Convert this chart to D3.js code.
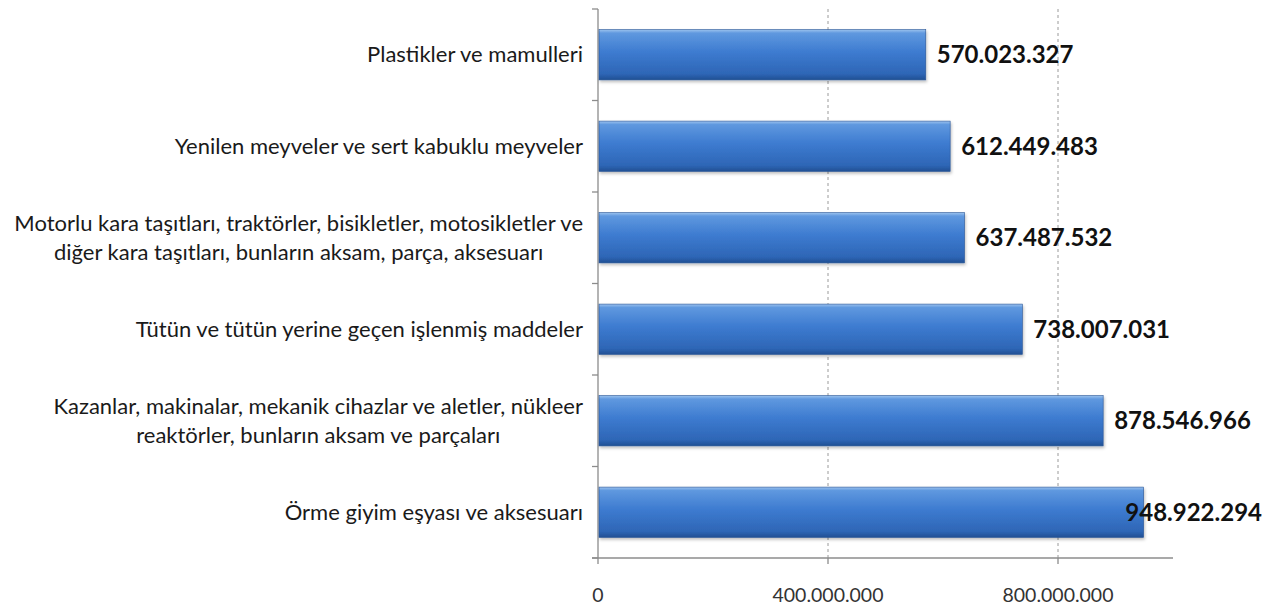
<!DOCTYPE html>
<html><head><meta charset="utf-8">
<script src="https://cdn.jsdelivr.net/npm/d3@7"></script>
<style>body{margin:0;background:#fff}svg{display:block}</style>
</head><body>
<svg id="c" width="1264" height="608"></svg>
<script>
const categories = [
  ["Plastikler ve mamulleri"],
  ["Yenilen meyveler ve sert kabuklu meyveler"],
  ["Motorlu kara taşıtları, traktörler, bisikletler, motosikletler ve", "diğer kara taşıtları, bunların aksam, parça, aksesuarı"],
  ["Tütün ve tütün yerine geçen işlenmiş maddeler"],
  ["Kazanlar, makinalar, mekanik cihazlar ve aletler, nükleer", "reaktörler, bunların aksam ve parçaları"],
  ["Örme giyim eşyası ve aksesuarı"]
];
const values = [570023327, 612449483, 637487532, 738007031, 878546966, 948922294];
const tickValues = [0, 400000000, 800000000];
const tickLabels = ["0", "400.000.000", "800.000.000"];

const svg = d3.select("#c");
const FONT = "Lato, 'Open Sans', sans-serif";
const fmt = v => d3.format(",")(v).replace(/,/g, ".");
const x = d3.scaleLinear().domain([0, 1000000000]).range([598, 1173]);
const y = d3.scaleBand().domain(d3.range(values.length)).range([9, 558]).paddingInner(0.45).paddingOuter(0.225);

const defs = svg.append("defs");
const g = defs.append("linearGradient").attr("id","bar").attr("x1",0).attr("y1",0).attr("x2",0).attr("y2",1);
[[0,"#9cc3ee"],[0.07,"#5f98df"],[0.45,"#3d7bd0"],[0.88,"#2e66b6"],[1,"#214f93"]].forEach(s=>g.append("stop").attr("offset",s[0]).attr("stop-color",s[1]));
const f = defs.append("filter").attr("id","sh").attr("x","-5%").attr("y","-20%").attr("width","110%").attr("height","150%");
f.append("feDropShadow").attr("dx",1).attr("dy",2).attr("stdDeviation",1.5).attr("flood-color","#000").attr("flood-opacity",0.25);

// gridlines
svg.append("g").selectAll("line").data(tickValues.slice(1)).join("line")
  .attr("x1",d=>x(d)).attr("x2",d=>x(d)).attr("y1",9).attr("y2",558)
  .attr("stroke","#9a9a9a").attr("stroke-width",1).attr("stroke-dasharray","3,3");

// y axis
const yTicks = d3.range(values.length+1).map(i => 9 + i*(549/values.length));
svg.append("line").attr("x1",598).attr("x2",598).attr("y1",9).attr("y2",558).attr("stroke","#8c8c8c").attr("stroke-width",1.3);
svg.append("g").selectAll("line").data(yTicks).join("line")
  .attr("x1",592).attr("x2",598).attr("y1",d=>d).attr("y2",d=>d).attr("stroke","#8c8c8c").attr("stroke-width",1.3);

// x axis
svg.append("line").attr("x1",592).attr("x2",1173).attr("y1",558).attr("y2",558).attr("stroke","#8c8c8c").attr("stroke-width",1.3);
svg.append("g").selectAll("line").data(tickValues).join("line")
  .attr("x1",d=>x(d)).attr("x2",d=>x(d)).attr("y1",558).attr("y2",564).attr("stroke","#8c8c8c").attr("stroke-width",1.3);
svg.append("g").selectAll("text").data(tickValues).join("text")
  .attr("x",d=>x(d)).attr("y",602).attr("text-anchor","middle")
  .attr("font-family",FONT).attr("font-size",19.5).attr("fill","#333")
  .text((d,i)=>tickLabels[i]);

// bars
svg.append("g").selectAll("rect").data(values).join("rect")
  .attr("x",x(0)+1).attr("y",(d,i)=>y(i)).attr("width",d=>x(d)-x(0)-1).attr("height",y.bandwidth())
  .attr("fill","url(#bar)").attr("stroke","#2a5596").attr("stroke-width",0.6).attr("filter","url(#sh)");

// value labels
const vl = svg.append("g").selectAll("text").data(values).join("text")
  .attr("y",(d,i)=>y(i)+y.bandwidth()/2).attr("dy","0.36em")
  .attr("font-family",FONT).attr("font-weight","bold").attr("font-size",24).attr("fill","#111")
  .text(d=>fmt(d));
vl.each(function(d){
  const w = this.getComputedTextLength();
  const xs = Math.min(x(d)+11, 1262 - w);
  d3.select(this).attr("x", xs);
});

// category labels
const cg = svg.append("g");
categories.forEach((lines,i)=>{
  const cy = y(i)+y.bandwidth()/2;
  const lh = 29;
  const t = cg.append("text").attr("font-family",FONT).attr("font-size",22).attr("fill","#1a1a1a").attr("text-anchor","middle");
  const spans = lines.map((l,k)=>t.append("tspan").attr("y", cy + (k-(lines.length-1)/2)*lh).attr("dy","0.35em").text(l));
  const widths = spans.map(s=>s.node().getComputedTextLength());
  const wmax = Math.max(...widths);
  const center = 583 - wmax/2;
  spans.forEach(s=>s.attr("x",center));
});
</script>
</body></html>
